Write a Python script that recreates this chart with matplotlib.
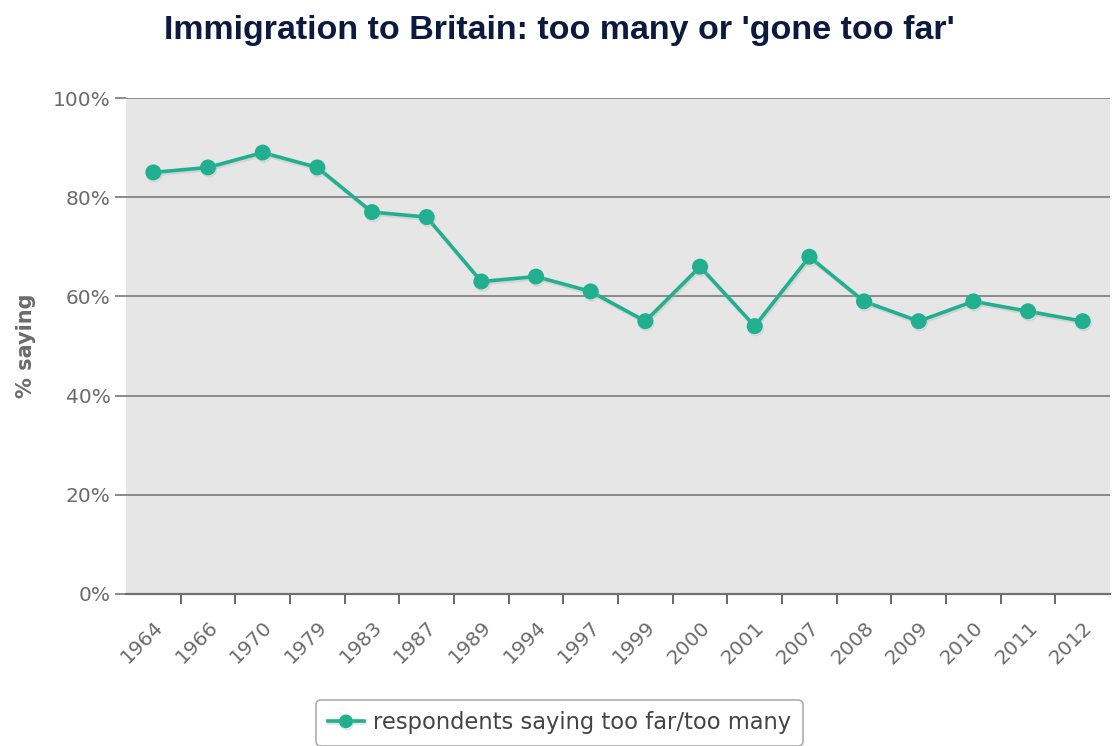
import matplotlib
matplotlib.use("Agg")
import matplotlib.pyplot as plt
import matplotlib.patheffects as pe
import numpy as np

years = ["1964", "1966", "1970", "1979", "1983", "1987", "1989", "1994", "1997",
         "1999", "2000", "2001", "2007", "2008", "2009", "2010", "2011", "2012"]
pct = [85, 86, 89, 86, 77, 76, 63, 64, 61, 55, 66, 54, 68, 59, 55, 59, 57, 55]
yticks = [0, 20, 40, 60, 80, 100]

teal = "#21b08f"
grid_col = "#8a8a8a"
text_col = "#6b6b6b"

fig = plt.figure(figsize=(11.19, 7.46), dpi=100)
ax = fig.add_axes([0.1126, 0.2038, 0.8794, 0.6648])
ax.set_facecolor("#e6e6e6")

x = np.arange(len(years))
ax.plot(x, pct, color=teal, lw=2.6, marker="o", ms=10.5, zorder=3,
        path_effects=[pe.SimpleLineShadow(offset=(0.8, -1.5), shadow_color="#b0b0b0", alpha=0.35),
                      pe.Normal()])

ax.set_xlim(-0.5, len(years) - 0.5)
ax.set_ylim(0, 100)

ax.set_yticks(yticks)
ax.set_yticklabels([f"{v}%" for v in yticks])
for v in yticks[1:]:
    ax.axhline(v, color=grid_col, lw=1.4, zorder=1)
ax.tick_params(axis="y", length=8, width=1.4, color=grid_col, labelcolor=text_col,
               labelsize=14.5, pad=3)

ax.set_xticks(x)
ax.set_xticklabels(years, rotation=45, ha="right", rotation_mode="anchor")
ax.set_xticks(np.arange(len(years) - 1) + 0.5, minor=True)
ax.tick_params(axis="x", which="major", length=0, labelcolor=text_col, labelsize=14.5, pad=17)
ax.tick_params(axis="x", which="minor", length=7, width=1.4, color="#666666")

for s in ["top", "right", "left"]:
    ax.spines[s].set_visible(False)
ax.spines["bottom"].set_color("#707070")
ax.spines["bottom"].set_linewidth(1.6)

ax.set_ylabel("% saying", fontsize=15, fontweight="bold", color=text_col, labelpad=12)

fig.suptitle("Immigration to Britain: too many or 'gone too far'", x=0.5, y=0.98,
             fontsize=24.5, fontweight="bold", color="#0d1a40", family="Liberation Sans")

fig.legend(handles=ax.lines, labels=["respondents saying too far/too many"],
           loc="upper center", bbox_to_anchor=(0.5, 1 - 700 / 746), fontsize=16.3,
           frameon=True, fancybox=True, edgecolor="#999999", labelcolor="#444444",
           handlelength=1.6, borderpad=0.5, borderaxespad=0, handletextpad=0.4,
           markerscale=0.85)
leg = fig.legends[0]
leg.get_frame().set_linewidth(1.2)

fig.savefig("out.png", dpi=100)
